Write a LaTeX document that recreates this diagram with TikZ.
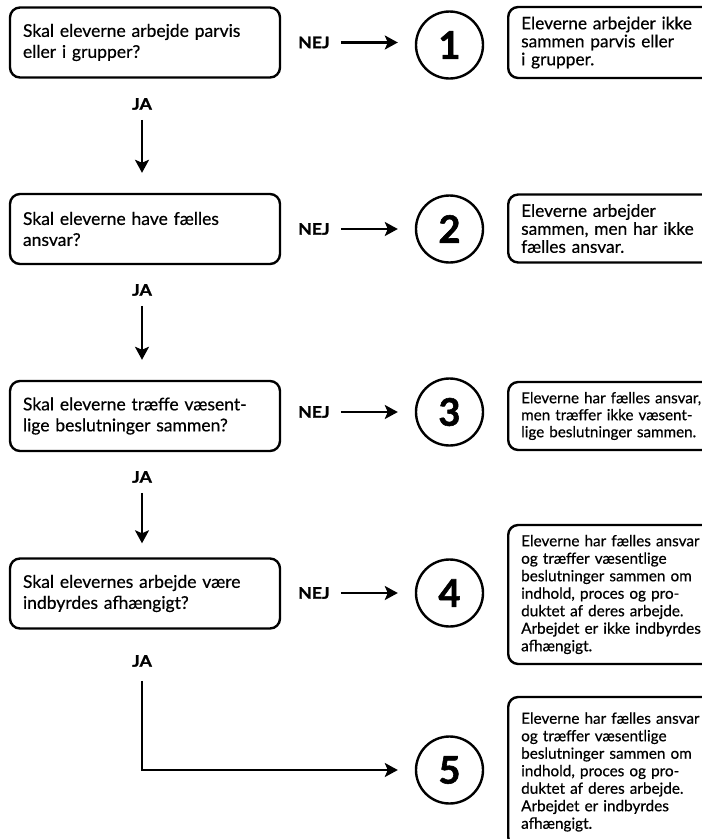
\documentclass[tikz,border=0pt]{standalone}
\usepackage{fontspec}
\setmainfont{Lato}
\newfontfamily\qfont{Lato}[FakeBold=0.5]
\newfontfamily\labfont{Lato}[FakeStretch=1.12,FakeBold=1.4]
\newfontfamily\numfont{Lato}[FakeBold=1.5]
\usetikzlibrary{arrows.meta}
\begin{document}
\begin{tikzpicture}[x=1pt,y=-1pt,
  q/.style={draw,line width=2.4pt,rounded corners=10pt,minimum width=270pt,minimum height=70pt,text width=244pt,align=left,inner xsep=13pt,font=\qfont\fontsize{17.5}{21}\selectfont},
  ans/.style={draw,line width=2.4pt,rounded corners=10pt,anchor=west,text width=200pt,align=left,inner xsep=13pt,font=\qfont\fontsize{17.3}{18}\selectfont},
  num/.style={circle,draw,line width=2.4pt,minimum size=67pt,inner sep=0pt,font=\numfont\bfseries\fontsize{38}{38}\selectfont},
  lab/.style={font=\labfont\bfseries\fontsize{15.8}{18}\selectfont,inner sep=0pt},
  arr/.style={line width=2.4pt,-{Stealth[length=13pt,width=14pt,inset=3pt]}}
]
\useasboundingbox (0,0) rectangle (702,839);
\clip (0,0) rectangle (702,839);
\fill[white] (0,0) rectangle (702,839);
% questions
\node[q] (q1) at (145,42.5) {Skal eleverne arbejde parvis\\eller i grupper?};
\node[q] (q2) at (145,229) {Skal eleverne have fælles\\ansvar?};
\node[q] (q3) at (145,416) {Skal eleverne træffe væsent-\\lige beslutninger sammen?};
\node[q] (q4) at (145,593.5) {Skal elevernes arbejde være\\indbyrdes afhængigt?};
% NEJ labels
\node[lab,anchor=west] (n1) at (298,42.5) {NEJ};
\node[lab,anchor=west] (n2) at (298,229) {NEJ};
\node[lab,anchor=west] (n3) at (298,412) {NEJ};
\node[lab,anchor=west] (n4) at (298,593) {NEJ};
% JA labels
\node[lab] (j1) at (142,104) {JA};
\node[lab] (j2) at (142,290) {JA};
\node[lab] (j3) at (142,477) {JA};
\node[lab] (j4) at (142,661) {JA};
% circles
\node[num] (c1) at (449.5,45) {1};
\node[num] (c2) at (449.5,229) {2};
\node[num] (c3) at (449.5,412) {3};
\node[num] (c4) at (449.5,593) {4};
\node[num] (c5) at (449.5,770) {5};
% answers
\node[ans,minimum height=71pt] (a1) at (507,42.5) {Eleverne arbejder ikke\\sammen parvis eller\\i grupper.};
\node[ans,minimum height=68pt] (a2) at (507,228.5) {Eleverne arbejder\\sammen, men har ikke\\fælles ansvar.};
\node[ans,minimum height=68pt,font=\qfont\fontsize{15.2}{17}\selectfont] (a3) at (507,416) {Eleverne har fælles ansvar,\\men træffer ikke væsent-\\lige beslutninger sammen.};
\node[ans,minimum height=139pt,font=\qfont\fontsize{15.3}{17.5}\selectfont] (a4) at (507,594.5) {Eleverne har fælles ansvar\\og træffer væsentlige\\beslutninger sammen om\\indhold, proces og pro-\\duktet af deres arbejde.\\Arbejdet er ikke indbyrdes\\afhængigt.};
\node[ans,minimum height=150pt,font=\qfont\fontsize{15.3}{17.5}\selectfont] (a5) at (507,772) {Eleverne har fælles ansvar\\og træffer væsentlige\\beslutninger sammen om\\indhold, proces og pro-\\duktet af deres arbejde.\\Arbejdet er indbyrdes\\afhængigt.};
% NEJ arrows
\foreach \i in {1,2,3,4}{
  \draw[arr,shorten <=11pt,shorten >=17pt] (n\i.east) -- (n\i.east -| c\i.west);
}
% JA arrows
\draw[arr,shorten <=10pt,shorten >=20pt] (j1.south) -- (j1.south |- q2.north);
\draw[arr,shorten <=10pt,shorten >=20pt] (j2.south) -- (j2.south |- q3.north);
\draw[arr,shorten <=10pt,shorten >=14pt] (j3.south) -- (j3.south |- q4.north);
\draw[arr,shorten <=14pt,shorten >=17pt] (j4.south) |- (c5.west);
\end{tikzpicture}
\end{document}
